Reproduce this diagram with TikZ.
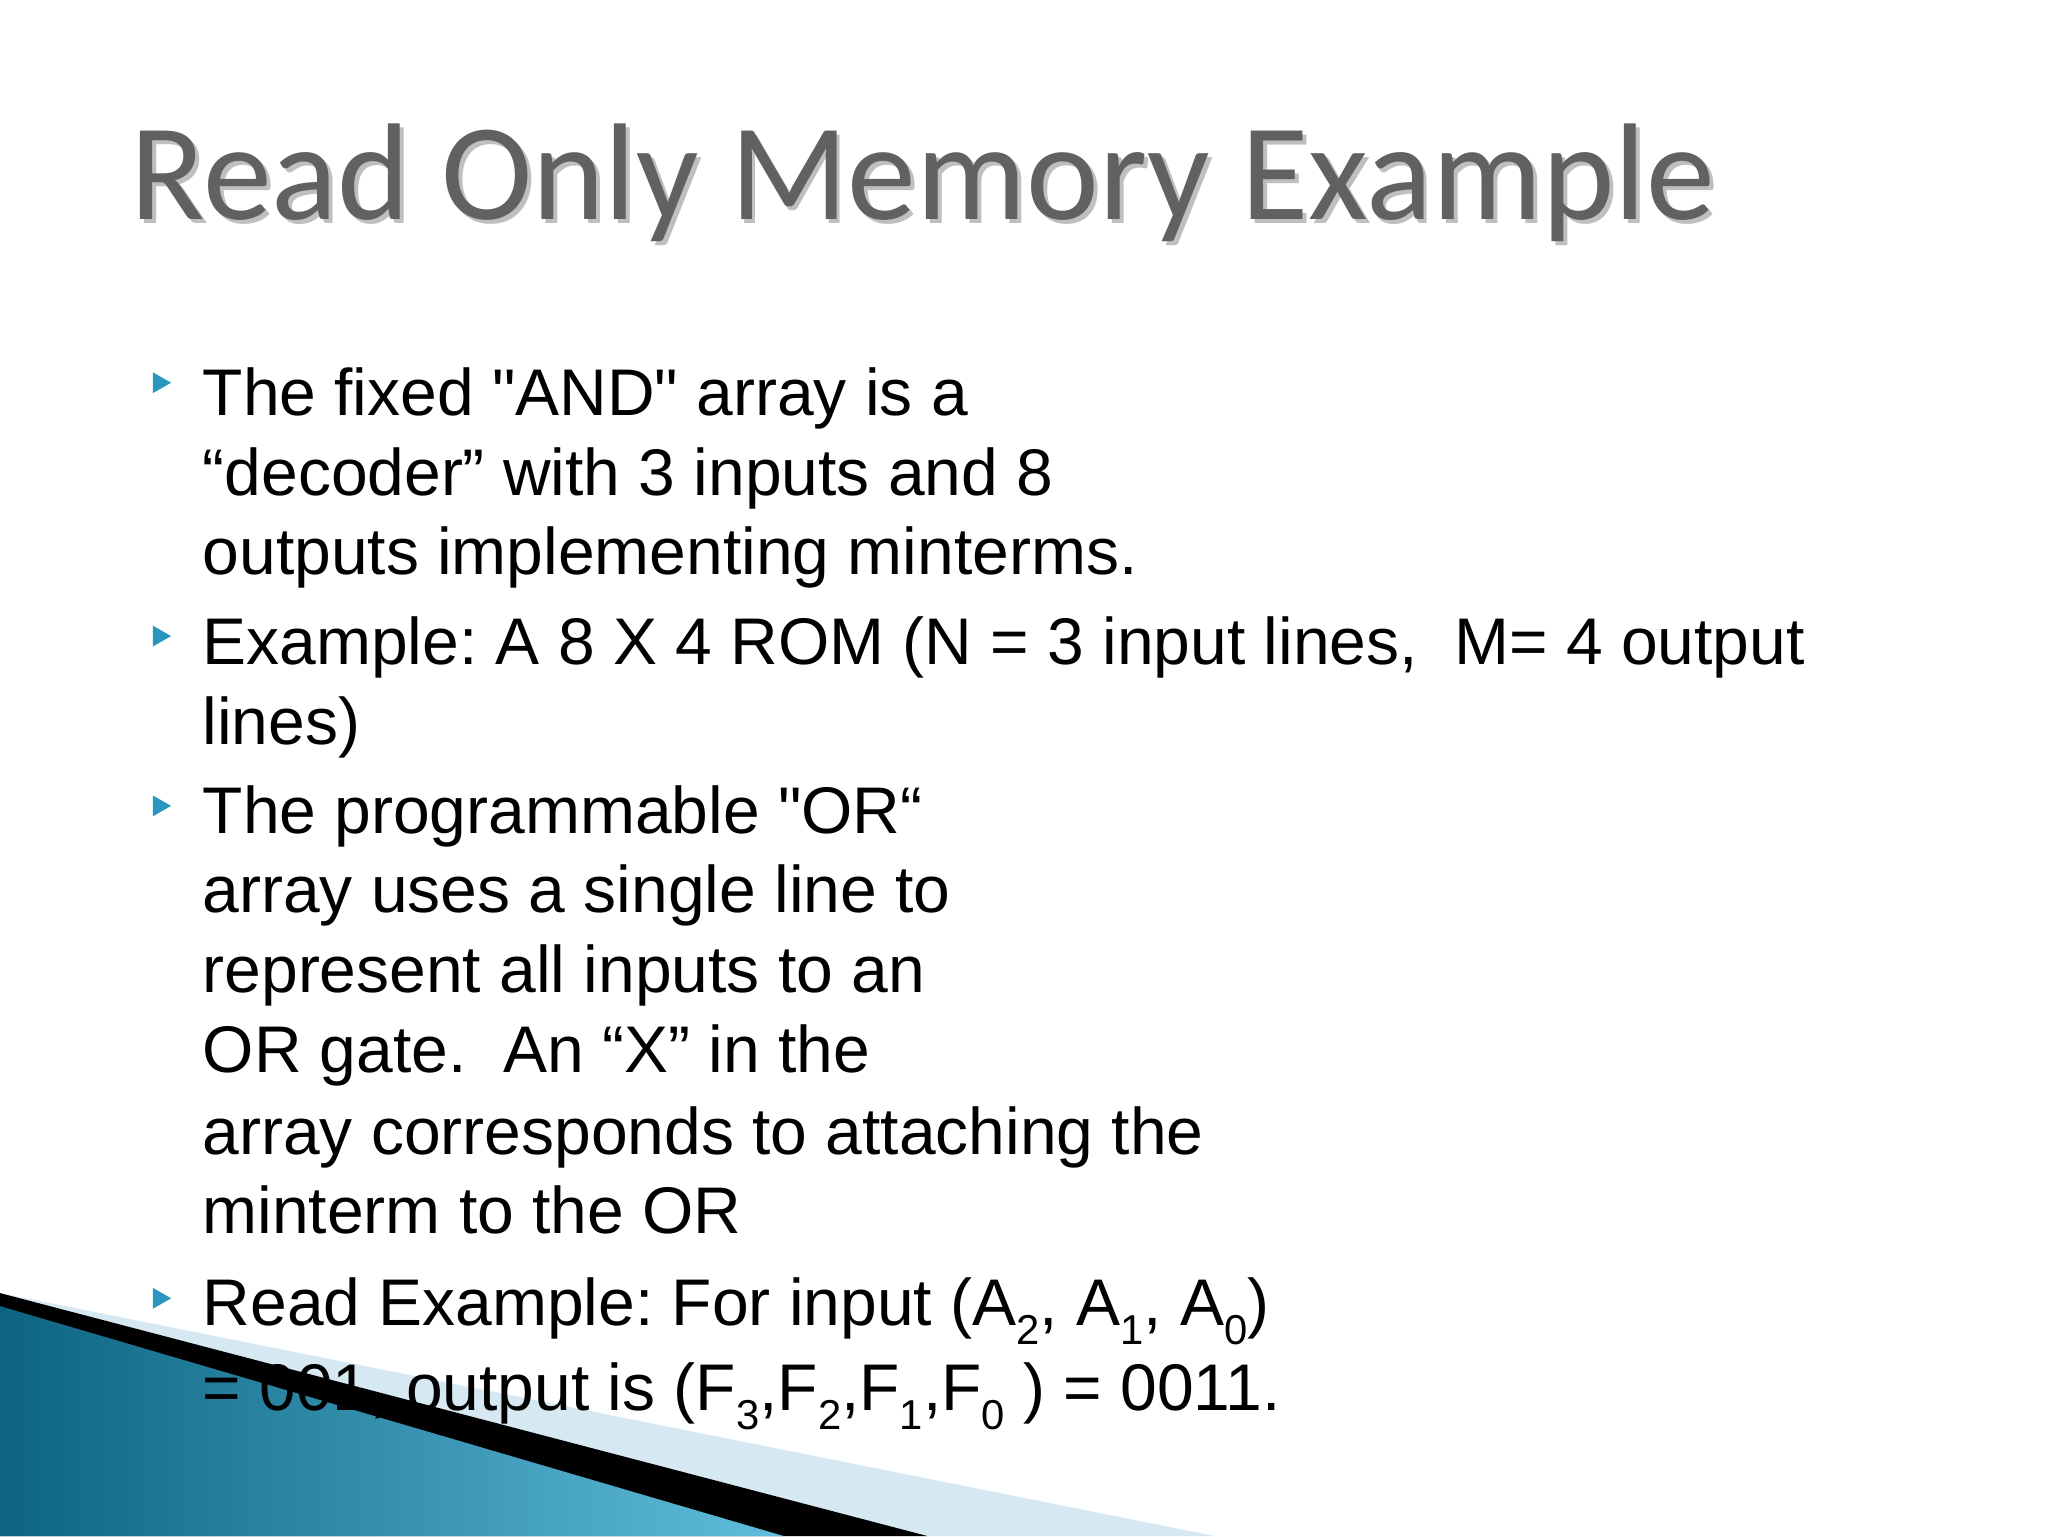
\documentclass[tikz,border=0pt]{standalone}
\usepackage{fontspec}
\setmainfont{Liberation Sans}
\newfontfamily\qf{Liberation Sans}
\newfontfamily\titlefont{Carlito}
\frenchspacing
\definecolor{tealdk}{RGB}{12,100,130}
\definecolor{teallt}{RGB}{95,190,220}
\definecolor{pale}{RGB}{214,233,242}
\definecolor{bulc}{RGB}{40,150,190}
\begin{document}
\begin{tikzpicture}[x=1pt,y=-1pt,
  ln/.style={anchor=base west,inner sep=0pt,font=\fontsize{50.5}{60}\selectfont},
  bul/.style={fill=bulc,draw=none}]
\useasboundingbox (0,0) rectangle (1568,1176);
\fill[white] (0,0) rectangle (1568,1176);
\fill[pale] (0,990) -- (930,1176) -- (0,1176) -- cycle;
\fill[black] (0,990) -- (710,1176) -- (0,1176) -- cycle;
\shade[left color=tealdk, right color=teallt] (0,1000) -- (600,1176) -- (0,1176) -- cycle;
\node[anchor=base west,inner sep=0pt,text=black!25,font=\titlefont\fontsize{105.5}{110}\selectfont] at (103,171) {Read Only Memory Example};
\node (title) [anchor=base west,inner sep=0pt,text=black!62,font=\titlefont\fontsize{105.5}{110}\selectfont] at (100,168) {Read Only Memory Example};
\newcommand\bt[1]{\fill[bul] (117,#1-8) -- (131,#1) -- (117,#1+8) -- cycle;}
\newcommand\sub[1]{\raisebox{-0.28em}{\fontsize{32}{32}\selectfont #1}}
\newcommand\dq{{\qf"}}
\bt{293}\bt{487}\bt{617}\bt{994}
\node (l1) [ln] at (155,318) {The fixed \dq AND\dq{} array is a};
\node (l2) [ln] at (155,379) {“decoder” with 3 inputs and 8};
\node (l3) [ln] at (155,440) {outputs implementing minterms.};
\node (l4) [ln] at (155,509) {Example: A 8 X 4 ROM (N = 3 input lines,\ \ M= 4 output};
\node (l5) [ln] at (155,570) {lines)};
\node (l6) [ln] at (155,638) {The programmable \dq OR“};
\node (l7) [ln] at (155,699) {array uses a single line to};
\node (l8) [ln] at (155,760) {represent all inputs to an};
\node (l9) [ln] at (155,821) {OR gate.\ \ An “X” in the};
\node (l10) [ln] at (155,884) {array corresponds to attaching the};
\node (l11) [ln] at (155,944) {minterm to the OR};
\node (l12) [ln] at (155,1015) {Read Example: For input (A\sub{2}, A\sub{1}, A\sub{0})};
\node (l13) [ln] at (155,1080) {= 001, output is (F\sub{3},F\sub{2},F\sub{1},F\sub{0} ) = 0011.};
\end{tikzpicture}
\end{document}
